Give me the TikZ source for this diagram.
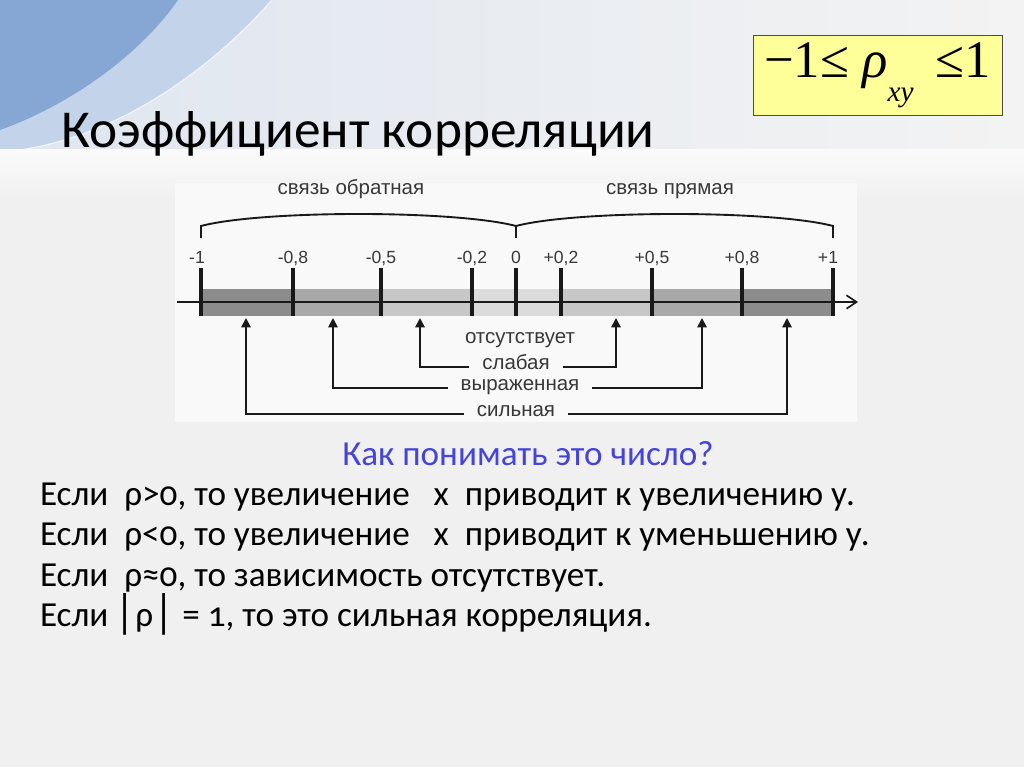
\documentclass[tikz,border=0pt]{standalone}
\usepackage{fontspec}
\setmainfont[Numbers=OldStyle]{Carlito}
\newfontfamily\diagfont{Liberation Sans}
\newfontfamily\formfont{Liberation Serif}
\newfontfamily\barfont{DejaVu Sans}
\usetikzlibrary{arrows.meta,positioning}

\definecolor{bodybg}{HTML}{F0F0F0}
\definecolor{bandL}{HTML}{DFE6F0}
\definecolor{bandR}{HTML}{F3F3F3}
\definecolor{swooshD}{HTML}{86A6D3}
\definecolor{swooshL}{HTML}{C3D4EA}
\definecolor{panel}{HTML}{F9F9F9}
\definecolor{formbg}{HTML}{FFFF99}
\definecolor{asktext}{HTML}{4444D8}
\definecolor{diagtext}{HTML}{383838}

\tikzset{
  lbl/.style={font=\diagfont\fontsize{17.5}{20}\selectfont, text=diagtext, inner sep=0pt,
    text height=1ex, text depth=0pt},
  ticklbl/.style={font=\diagfont\fontsize{15}{17}\selectfont, text=diagtext, inner sep=0pt, anchor=base},
  kind/.style={lbl, inner xsep=11pt},
  tick/.style={line width=3pt, black!90},
  axis/.style={line width=1.6pt, black!90, -{Straight Barb[length=3mm, width=4mm, line width=1.4pt]}},
  brace/.style={line width=1.6pt, black!90},
  uparr/.style={line width=1.6pt, black!90, -{Triangle[length=2.8mm, width=2.8mm]}},
  bodyline/.style={anchor=base west, inner sep=0pt, font=\fontsize{30}{33}\selectfont},
}

\begin{document}
\begin{tikzpicture}[x=0.03cm, y=-0.03cm]
\useasboundingbox (0,0) rectangle (1024,767);
% slide background
\fill[bodybg] (0,0) rectangle (1024,767);
\shade[left color=bandL, right color=bandR] (0,0) rectangle (1024,150);
\fill[swooshL] (178,0) -- (272,0) .. controls (210,70) and (120,135) .. (20,150)
  -- (0,150) -- (0,130) .. controls (70,105) and (140,55) .. (178,0) -- cycle;
\fill[swooshD] (0,0) -- (178,0) .. controls (140,55) and (70,105) .. (0,130) -- cycle;
\draw[white, line width=1pt, opacity=.7] (272,0) .. controls (210,70) and (120,135) .. (20,150);
\shade[top color=white!70!bodybg, bottom color=bodybg] (0,150) rectangle (1024,200);

% title and formula
\node[anchor=base west, inner sep=0pt, font=\fontsize{45.5}{48}\selectfont] (title) at (61,148) {Коэффициент корреляции};
\node[draw=black!70, fill=formbg, line width=0.8pt, minimum width=7.47cm, minimum height=2.4cm,
  font=\formfont\fontsize{45}{48}\selectfont] (formula) at (877.5,75)
  {−1≤ \textit{ρ}\raisebox{-0.45em}{\fontsize{25}{26}\selectfont\textit{xy}} \,≤1};

% picture of the scale
\fill[panel] (175,183) rectangle (857,422);
\foreach \a/\b/\c in {201/293/45, 293/381/34, 381/472/22, 472/561/14, 561/652/22, 652/742/34, 742/833/45}
  \fill[black!\c] (\a,289) rectangle (\b,316);
\coordinate (axL) at (177,302);
\coordinate (axR) at (858,302);
\draw[axis] (axL) -- (axR);
\foreach \x/\lx/\v in {201/197/-1, 293/293/{-0,8}, 381/381/{-0,5}, 472/472/{-0,2}, 516/516/0,
    561/561/{+0,2}, 652/652/{+0,5}, 742/742/{+0,8}, 833/828/+1} {
  \draw[tick] (\x,268) -- (\x,316);
  \node[ticklbl] (v\x) at (\lx,264) {\v};
}
\draw[brace] (201,238) -- (201,226) .. controls (262,210) and (455,210) .. (516,226) -- (516,238);
\draw[brace] (516,226) .. controls (577,210) and (772,210) .. (833,226) -- (833,238);
\node[lbl] (neg) at (351,192) {связь обратная};
\node[lbl] (pos) at (670,192) {связь прямая};

\node[lbl] (none) at (520,341) {отсутствует};
\node[kind] (weak) at (516,367) {слабая};
\node[kind] (mid) at (520,388) {выраженная};
\node[kind] (strong) at (516,414) {сильная};
\coordinate (wL) at (420,318);
\coordinate (wR) at (616,318);
\coordinate (mL) at (333,318);
\coordinate (mR) at (702,318);
\coordinate (sL) at (246,318);
\coordinate (sR) at (787,318);
\draw[uparr] (weak.west) -| (wL);
\draw[uparr] (weak.east) -| (wR);
\draw[uparr] (mid.west) -| (mL);
\draw[uparr] (mid.east) -| (mR);
\draw[uparr] (strong.west) -| (sL);
\draw[uparr] (strong.east) -| (sR);

% explanation
\node[bodyline, anchor=base, text=asktext] (ask) at (528,466) {Как понимать это число?};
\node[bodyline] (line1) at (40,506) {Если \ ρ>0, то увеличение \ \ х \ приводит к увеличению у.};
\node[bodyline] (line2) at (40,546) {Если \ ρ<0, то увеличение \ \ х \ приводит к уменьшению у.};
\node[bodyline] (line3) at (40,586) {Если \ ρ≈0, то зависимость отсутствует.};
\node[bodyline] (line4) at (40,626) {Если\,{\barfont│}ρ{\barfont│} = 1, то это сильная корреляция.};
\end{tikzpicture}
\end{document}
